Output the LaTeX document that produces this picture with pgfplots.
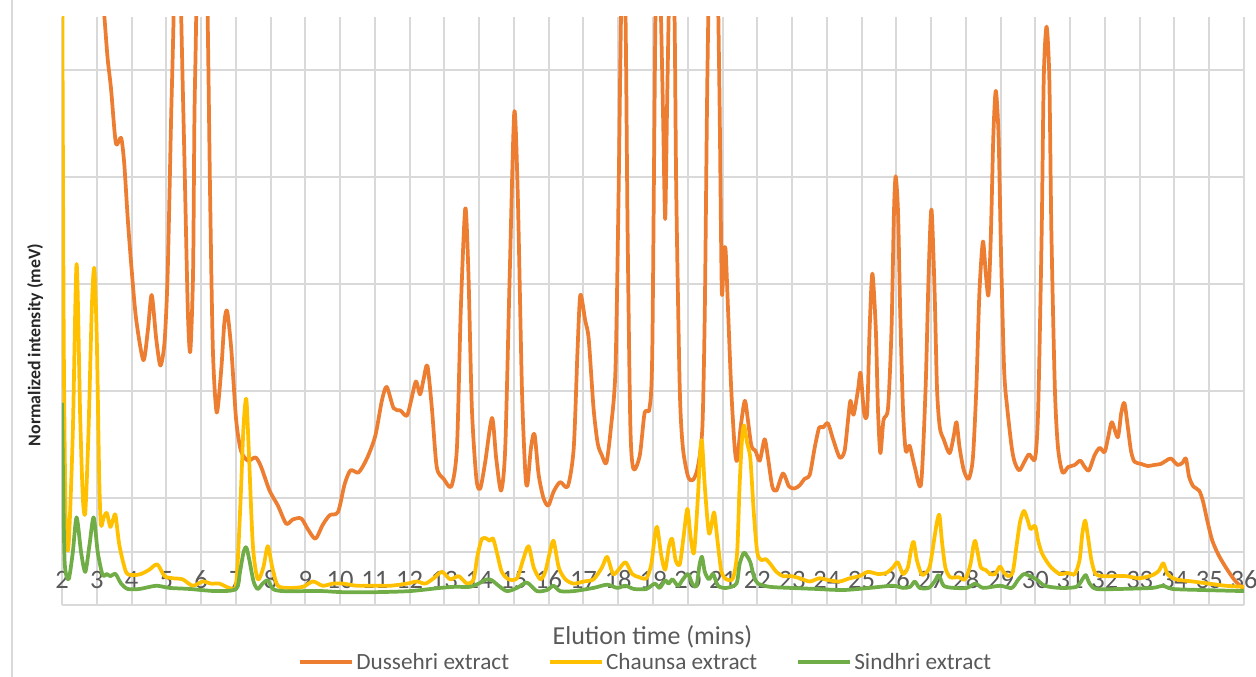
\documentclass[border=0pt]{standalone}
\usepackage{pgfplots}
\pgfplotsset{compat=1.18}
\usepackage{fontspec}
\setmainfont{Carlito}
\definecolor{cOrange}{HTML}{ED7D31}
\definecolor{cYellow}{HTML}{FFC000}
\definecolor{cGreen}{HTML}{70AD47}
\definecolor{cGrid}{HTML}{D9D9D9}
\definecolor{cAxis}{HTML}{BFBFBF}
\definecolor{cText}{HTML}{595959}
\begin{document}
\begin{tikzpicture}
\path[use as bounding box] (-46.5bp,-54bp) rectangle (895.5bp,453.75bp);
\draw[cGrid, line width=1.4bp] (-37.5bp,-54bp) -- (-37.5bp,453.75bp);
\begin{axis}[
  at={(0,0)}, anchor=south west,
  scale only axis, width=886.5bp, height=441bp,
  xmin=2, xmax=36, ymin=0, ymax=5.5,
  xtick={2,3,...,36}, ytick={0,1,2,3,4,5},
  extra y ticks={0.5}, extra y tick labels={},
  extra y tick style={grid style={cAxis, line width=1.5bp}},
  yticklabels={},
  grid=major,
  major grid style={cGrid, line width=1.5bp},
  axis line style={draw=none},
  major tick length=0pt,
  /pgf/number format/assume math mode=true,
  xticklabel style={anchor=center, yshift=18.75bp, font=\fontsize{20}{20}\selectfont, text=cText},
  xlabel={Elution time (mins)},
  xlabel style={at={(axis description cs:0.4996,-0.0544)}, anchor=center, font=\fontsize{19.5}{20}\selectfont, text=cText},
  ylabel={\textbf{Normalized intensity (meV)}},
  ylabel style={at={(axis description cs:-0.0228,0.442)}, anchor=center, font=\fontsize{13.4}{14}\selectfont, text=black!85},
  legend columns=3,
  legend style={draw=none, fill=none, at={(0.494,-0.0969)}, anchor=center,
    font=\fontsize{17.5}{18}\selectfont, text=cText,
    /tikz/every even column/.append style={column sep=27bp}},
  legend image code/.code={\draw[#1, line width=2.8bp] (0bp,0bp) -- (39bp,0bp);},
  every axis plot/.append style={line width=2.8bp, smooth, tension=0.45, line join=round},
]
\addplot[cOrange] coordinates {
(3.0,6.4)(3.22,5.5)(3.31,5.12)(3.41,4.83)(3.55,4.32)(3.70,4.37)(3.79,4.13)(3.89,3.62)(3.99,3.19)(4.13,2.68)(4.34,2.29)(4.47,2.57)(4.58,2.90)(4.71,2.49)(4.83,2.24)(4.95,2.46)(5.04,3.11)(5.14,4.57)(5.21,5.5)(5.32,7.5)(5.43,5.5)(5.52,4.2)(5.62,2.75)(5.69,2.37)(5.77,3.11)(5.81,4.57)(5.86,5.5)(6.02,9)(6.19,5.5)(6.26,3.84)(6.34,2.39)(6.45,1.80)(6.58,2.20)(6.67,2.64)(6.75,2.75)(6.87,2.39)(7.01,1.73)(7.15,1.44)(7.35,1.35)(7.57,1.38)(7.73,1.29)(7.97,1.07)(8.21,0.93)(8.45,0.76)(8.64,0.80)(8.88,0.81)(9.07,0.71)(9.29,0.62)(9.50,0.75)(9.70,0.84)(9.94,0.87)(10.13,1.13)(10.30,1.26)(10.53,1.24)(10.77,1.37)(11.01,1.58)(11.20,1.91)(11.34,2.04)(11.54,1.84)(11.73,1.82)(11.92,1.77)(12.04,1.91)(12.18,2.09)(12.30,1.97)(12.40,2.11)(12.51,2.24)(12.64,1.84)(12.78,1.29)(12.98,1.18)(13.20,1.11)(13.36,1.47)(13.47,2.75)(13.60,3.71)(13.69,3.11)(13.79,1.84)(13.92,1.18)(14.03,1.09)(14.17,1.33)(14.37,1.75)(14.49,1.37)(14.63,1.07)(14.75,1.47)(14.88,3.11)(15.01,4.61)(15.11,3.84)(15.23,2.02)(15.33,1.22)(15.39,1.13)(15.49,1.47)(15.59,1.60)(15.71,1.22)(15.85,1.00)(15.99,0.93)(16.14,1.06)(16.33,1.15)(16.55,1.11)(16.72,1.47)(16.83,2.39)(16.91,2.90)(17.05,2.66)(17.15,2.49)(17.29,1.84)(17.41,1.51)(17.53,1.40)(17.66,1.33)(17.79,1.66)(17.92,2.20)(18.01,3.84)(18.08,5.5)(18.14,5.8)(18.21,5.5)(18.27,3.48)(18.35,1.66)(18.44,1.27)(18.62,1.40)(18.76,1.80)(18.90,1.84)(18.98,2.39)(19.07,5.5)(19.15,6.6)(19.23,5.5)(19.29,4.57)(19.35,3.61)(19.40,4.57)(19.45,5.5)(19.53,6.8)(19.62,5.5)(19.67,3.84)(19.77,2.02)(19.86,1.47)(20.01,1.20)(20.15,1.17)(20.29,1.29)(20.42,1.66)(20.49,2.75)(20.55,4.57)(20.59,5.5)(20.74,8.5)(20.88,5.5)(20.92,4.57)(20.98,2.93)(21.04,3.30)(21.09,3.31)(21.16,2.75)(21.25,2.02)(21.35,1.47)(21.42,1.35)(21.52,1.66)(21.64,1.91)(21.73,1.73)(21.83,1.49)(21.95,1.44)(22.07,1.35)(22.21,1.55)(22.31,1.37)(22.43,1.11)(22.55,1.07)(22.74,1.23)(22.91,1.11)(23.07,1.09)(23.22,1.12)(23.36,1.18)(23.51,1.22)(23.65,1.47)(23.78,1.66)(23.89,1.66)(24.03,1.70)(24.18,1.55)(24.37,1.38)(24.51,1.44)(24.61,1.73)(24.68,1.91)(24.77,1.78)(24.90,2.02)(24.97,2.17)(25.07,1.80)(25.16,1.80)(25.23,2.57)(25.31,3.10)(25.41,2.57)(25.47,1.84)(25.54,1.42)(25.63,1.73)(25.76,1.84)(25.86,2.57)(25.93,3.66)(25.98,4.01)(26.05,3.66)(26.11,2.75)(26.19,1.84)(26.27,1.44)(26.38,1.49)(26.53,1.29)(26.71,1.13)(26.84,2.02)(26.93,3.11)(27.01,3.70)(27.10,2.93)(27.17,2.02)(27.25,1.66)(27.36,1.55)(27.53,1.42)(27.65,1.58)(27.73,1.71)(27.82,1.47)(27.94,1.26)(28.08,1.18)(28.20,1.37)(28.30,2.02)(28.39,2.93)(28.49,3.40)(28.57,3.11)(28.65,2.90)(28.72,3.48)(28.79,4.39)(28.86,4.81)(28.94,4.39)(29.01,3.30)(29.10,2.20)(29.19,1.84)(29.32,1.47)(29.41,1.33)(29.54,1.26)(29.70,1.35)(29.82,1.41)(29.99,1.37)(30.08,1.84)(30.18,3.48)(30.24,4.93)(30.32,5.41)(30.40,4.93)(30.46,3.48)(30.56,2.02)(30.65,1.47)(30.78,1.24)(30.94,1.29)(31.13,1.31)(31.29,1.35)(31.42,1.29)(31.54,1.26)(31.70,1.40)(31.85,1.47)(31.99,1.43)(32.10,1.58)(32.20,1.71)(32.37,1.57)(32.47,1.80)(32.56,1.89)(32.66,1.66)(32.75,1.44)(32.85,1.34)(33.04,1.32)(33.23,1.30)(33.42,1.31)(33.61,1.32)(33.76,1.35)(33.90,1.37)(34.09,1.31)(34.23,1.33)(34.33,1.37)(34.42,1.20)(34.54,1.11)(34.71,1.07)(34.82,0.97)(34.95,0.78)(35.09,0.60)(35.28,0.46)(35.52,0.33)(35.76,0.22)(36.00,0.15)
};
\addlegendentry{Dussehri extract}
\addplot[cYellow] coordinates {
(2.0,6.5)(2.05,2.5)(2.11,0.75)(2.19,0.56)(2.31,1.6)(2.42,3.19)(2.52,1.8)(2.60,1.0)(2.67,0.87)(2.76,1.6)(2.86,2.8)(2.93,3.15)(3.00,2.5)(3.07,1.2)(3.12,0.75)(3.20,0.82)(3.29,0.86)(3.39,0.73)(3.47,0.80)(3.54,0.84)(3.65,0.56)(3.84,0.31)(4.03,0.28)(4.27,0.29)(4.51,0.33)(4.74,0.38)(4.95,0.27)(5.19,0.25)(5.47,0.24)(5.76,0.18)(6.05,0.22)(6.29,0.20)(6.53,0.20)(6.82,0.16)(7.01,0.20)(7.13,0.93)(7.22,1.66)(7.30,1.93)(7.37,1.47)(7.49,0.56)(7.63,0.24)(7.79,0.35)(7.92,0.55)(8.05,0.35)(8.21,0.18)(8.55,0.16)(8.93,0.17)(9.22,0.22)(9.50,0.18)(9.79,0.20)(10.08,0.20)(10.48,0.18)(10.96,0.18)(11.44,0.18)(11.92,0.20)(12.21,0.22)(12.45,0.20)(12.69,0.25)(12.93,0.31)(13.17,0.24)(13.41,0.27)(13.65,0.20)(13.84,0.24)(13.95,0.46)(14.08,0.62)(14.22,0.62)(14.30,0.60)(14.40,0.62)(14.51,0.49)(14.65,0.31)(14.85,0.24)(15.09,0.25)(15.26,0.42)(15.42,0.55)(15.57,0.35)(15.76,0.24)(15.90,0.31)(16.03,0.49)(16.14,0.60)(16.29,0.35)(16.48,0.24)(16.72,0.20)(17.01,0.22)(17.29,0.24)(17.53,0.35)(17.68,0.45)(17.85,0.29)(18.01,0.33)(18.21,0.40)(18.40,0.29)(18.60,0.26)(18.81,0.25)(18.95,0.38)(19.05,0.64)(19.12,0.73)(19.24,0.46)(19.35,0.33)(19.46,0.55)(19.55,0.62)(19.65,0.42)(19.77,0.38)(19.88,0.64)(19.99,0.90)(20.08,0.64)(20.18,0.49)(20.29,1.00)(20.36,1.44)(20.41,1.53)(20.49,1.11)(20.61,0.67)(20.73,0.84)(20.77,0.85)(20.87,0.56)(20.97,0.31)(21.11,0.24)(21.30,0.25)(21.42,0.49)(21.49,1.11)(21.56,1.55)(21.62,1.68)(21.71,1.51)(21.80,1.37)(21.90,0.86)(22.00,0.49)(22.12,0.42)(22.24,0.43)(22.36,0.39)(22.55,0.31)(22.74,0.27)(22.98,0.27)(23.22,0.25)(23.51,0.22)(23.79,0.25)(24.08,0.23)(24.37,0.22)(24.66,0.25)(24.94,0.27)(25.18,0.31)(25.47,0.29)(25.71,0.30)(25.90,0.35)(26.04,0.40)(26.19,0.29)(26.33,0.35)(26.43,0.53)(26.50,0.59)(26.59,0.42)(26.72,0.29)(26.81,0.29)(26.96,0.36)(27.10,0.64)(27.17,0.78)(27.24,0.84)(27.31,0.60)(27.41,0.35)(27.55,0.26)(27.79,0.26)(27.98,0.24)(28.13,0.38)(28.22,0.56)(28.27,0.60)(28.34,0.49)(28.43,0.35)(28.56,0.33)(28.70,0.29)(28.84,0.29)(28.98,0.36)(29.08,0.31)(29.22,0.27)(29.35,0.31)(29.46,0.56)(29.56,0.78)(29.67,0.88)(29.77,0.80)(29.86,0.71)(29.99,0.74)(30.08,0.60)(30.18,0.49)(30.30,0.42)(30.46,0.35)(30.70,0.29)(30.94,0.30)(31.13,0.29)(31.27,0.42)(31.35,0.67)(31.43,0.79)(31.51,0.64)(31.61,0.42)(31.73,0.29)(31.94,0.27)(32.23,0.27)(32.61,0.27)(32.99,0.25)(33.37,0.28)(33.55,0.32)(33.68,0.39)(33.80,0.29)(34.04,0.24)(34.52,0.22)(34.99,0.20)(35.47,0.18)(36.00,0.17)
};
\addlegendentry{Chaunsa extract}
\addplot[cGreen] coordinates {
(2.0,1.89)(2.04,1.0)(2.08,0.38)(2.19,0.24)(2.31,0.49)(2.42,0.82)(2.55,0.49)(2.67,0.31)(2.79,0.56)(2.91,0.82)(3.03,0.49)(3.17,0.28)(3.29,0.29)(3.39,0.27)(3.54,0.29)(3.70,0.20)(3.89,0.15)(4.23,0.15)(4.71,0.18)(5.09,0.16)(5.67,0.15)(6.43,0.13)(7.01,0.15)(7.12,0.31)(7.22,0.49)(7.30,0.54)(7.39,0.42)(7.51,0.22)(7.63,0.15)(7.77,0.20)(7.92,0.23)(8.07,0.15)(8.35,0.13)(9.02,0.13)(9.50,0.13)(10.08,0.12)(11.0,0.12)(12.0,0.13)(12.88,0.16)(13.30,0.17)(13.74,0.17)(13.98,0.20)(14.22,0.24)(14.37,0.23)(14.56,0.18)(14.80,0.13)(15.09,0.16)(15.37,0.21)(15.66,0.13)(15.95,0.14)(16.14,0.18)(16.33,0.13)(16.72,0.13)(17.29,0.16)(17.68,0.19)(17.97,0.16)(18.21,0.18)(18.45,0.15)(18.81,0.15)(19.05,0.20)(19.19,0.16)(19.35,0.23)(19.45,0.20)(19.56,0.24)(19.72,0.18)(19.86,0.24)(20.01,0.29)(20.13,0.20)(20.25,0.18)(20.34,0.38)(20.41,0.45)(20.49,0.31)(20.61,0.24)(20.73,0.29)(20.87,0.18)(21.11,0.16)(21.40,0.20)(21.49,0.38)(21.61,0.49)(21.70,0.46)(21.80,0.40)(21.90,0.27)(22.02,0.20)(22.36,0.17)(22.93,0.16)(23.70,0.15)(24.47,0.14)(25.23,0.16)(25.90,0.18)(26.19,0.16)(26.40,0.17)(26.53,0.22)(26.67,0.16)(26.93,0.16)(27.10,0.22)(27.22,0.28)(27.36,0.18)(27.65,0.16)(28.03,0.16)(28.27,0.20)(28.50,0.16)(28.98,0.18)(29.32,0.16)(29.51,0.24)(29.67,0.29)(29.84,0.27)(30.03,0.24)(30.27,0.18)(30.70,0.16)(31.18,0.17)(31.37,0.25)(31.45,0.28)(31.56,0.20)(31.75,0.15)(32.42,0.15)(33.37,0.16)(33.66,0.18)(33.95,0.15)(34.81,0.14)(36.0,0.13)
};
\addlegendentry{Sindhri extract}
\end{axis}
\end{tikzpicture}
\end{document}
